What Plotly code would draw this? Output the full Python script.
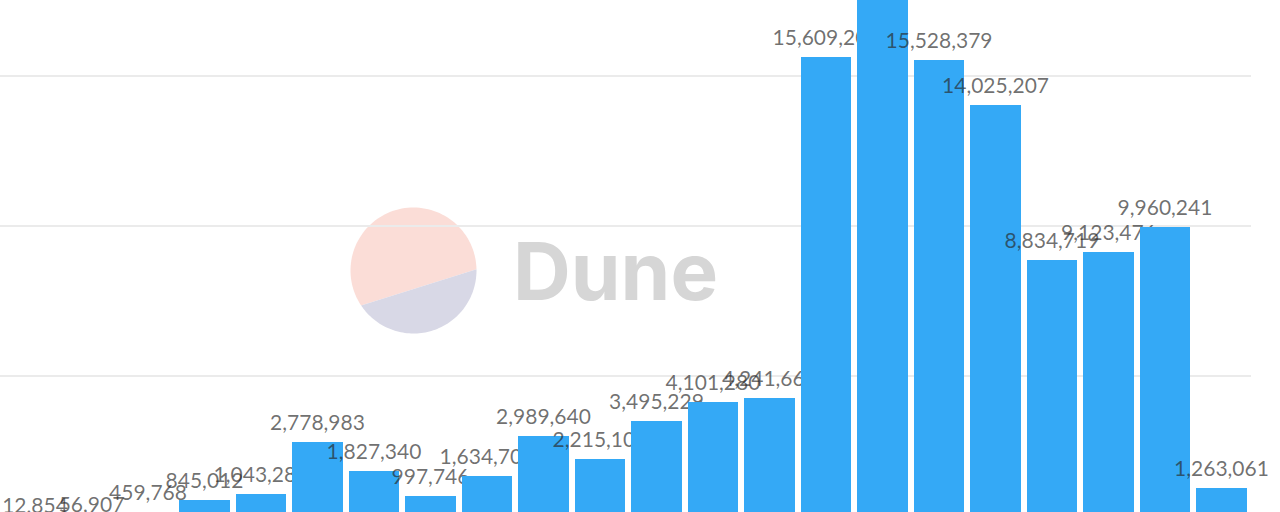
import numpy as np
import plotly.graph_objects as go

# ---- data ----
categories = list(range(-1, 22))
values = [2383, 12854, 56907, 459768, 845012, 1043280, 2778983, 1827340, 997746,
          1634700, 2989640, 2215100, 3495229, 4101280, 4241660, 15609200,
          18500000, 15528379, 14025207, 8834719, 9123476, 9960241, 1263061]
labels = [f"{v:,}" for v in values]

BAR_COLOR = "#34a9f6"
LABEL_COLOR = "rgba(40,40,40,0.66)"
LABEL_SPACER = 1200000  # transparent spacer; label sits inside its top end

W, H = 1280, 512
ML, MR = 0, 29
PW = W - ML - MR

fig = go.Figure()
for c, v, lab in zip(categories, values, labels):
    fig.add_trace(go.Bar(x=[c], y=[v], marker=dict(color=BAR_COLOR, line=dict(width=0)),
                         hoverinfo="skip", showlegend=False))
    fig.add_trace(go.Bar(x=[c], y=[LABEL_SPACER], marker=dict(color="rgba(0,0,0,0)", line=dict(width=0)),
                         text=[lab], textposition="inside", insidetextanchor="end",
                         constraintext="none", textangle=0, cliponaxis=False,
                         textfont=dict(family="Lato", size=21, color=LABEL_COLOR),
                         hoverinfo="skip", showlegend=False))

# ---- watermark (Dune logo) ----
def px2paper(px, py):
    return (px - ML) / PW, 1 - py / H

cx, cy, r = 413.5, 270.5, 63
a1 = np.arctan2(305 - cy, 361.7 - cx)
a2 = np.arctan2(269.3 - cy, 476.7 - cx)
def arc_path(start, end, n=80):
    ts = np.linspace(start, end, n)
    pts = [px2paper(cx + r * np.cos(t), cy + r * np.sin(t)) for t in ts]
    return "M " + " L ".join(f"{x:.5f},{y:.5f}" for x, y in pts) + " Z"

top_path = arc_path(a2, a1 - 2 * np.pi)
bot_path = arc_path(a2, a1)
fig.add_shape(type="path", path=top_path, xref="paper", yref="paper",
              fillcolor="rgb(251,221,215)", line=dict(width=0), layer="below")
fig.add_shape(type="path", path=bot_path, xref="paper", yref="paper",
              fillcolor="rgb(216,216,230)", line=dict(width=0), layer="below")
tx, ty = px2paper(615, 270)
fig.add_annotation(x=tx, y=ty, xref="paper", yref="paper", text="Dune", showarrow=False,
                   xanchor="center", yanchor="middle",
                   font=dict(family="Inter", size=80, color="#d6d6d6", weight=700))

fig.update_layout(
    width=W, height=H,
    margin=dict(l=ML, r=MR, t=0, b=0),
    paper_bgcolor="white", plot_bgcolor="rgba(0,0,0,0)",
    barmode="stack", bargap=0.1,
    showlegend=False,
)
x1 = 21 + (PW - 1221.5) / 56.5
x0 = x1 - PW / 56.5
fig.update_xaxes(range=[x0, x1], showticklabels=False, showgrid=False, zeroline=False,
                 showline=False, ticks="")
zero_px = 525.5
fig.update_yaxes(range=[(zero_px - H) / 30 * 1e6, zero_px / 30 * 1e6], dtick=5e6, tick0=0,
                 showticklabels=False, gridcolor="#ebebeb", gridwidth=2, zeroline=False,
                 showline=False, ticks="")

fig.write_html("out.html")
